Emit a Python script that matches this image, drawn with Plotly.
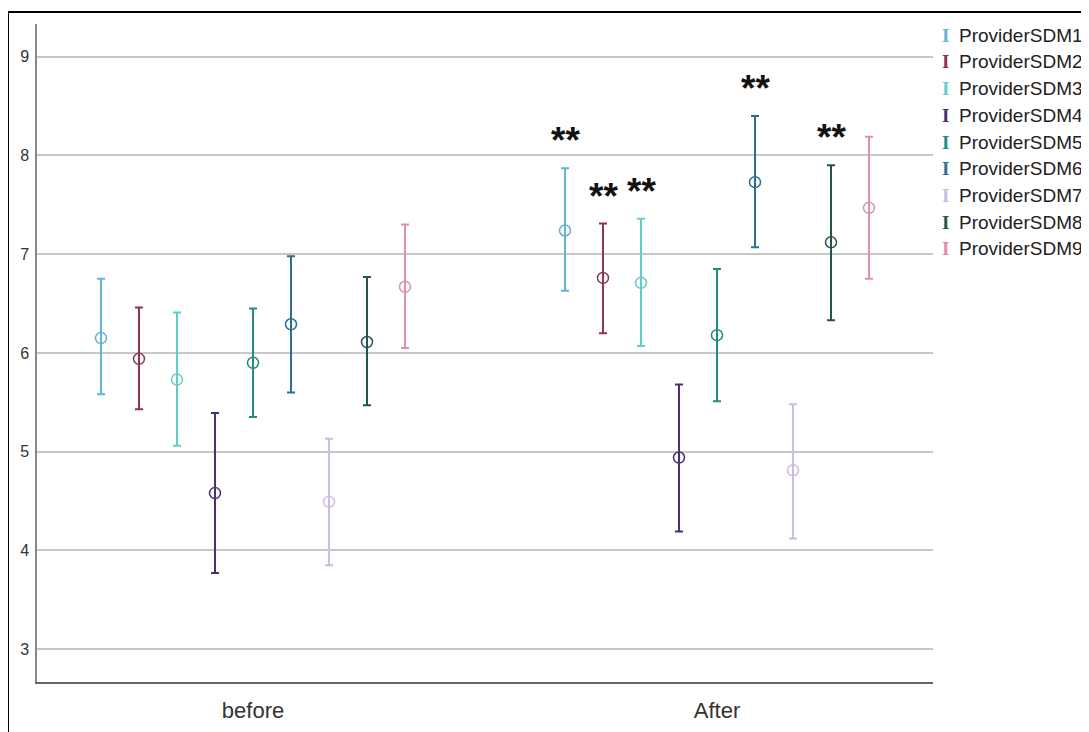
import plotly.graph_objects as go

# ---- data ----
groups = ["before", "After"]
series = ["ProviderSDM1", "ProviderSDM2", "ProviderSDM3", "ProviderSDM4", "ProviderSDM5",
          "ProviderSDM6", "ProviderSDM7", "ProviderSDM8", "ProviderSDM9"]
colors = ["#62b3d6", "#8c3558", "#5fcfc7", "#4a2d74", "#238c80",
          "#2b6f97", "#cbbde2", "#22554f", "#e28ea9"]

before_mean = [6.15, 5.94, 5.73, 4.58, 5.90, 6.29, 4.49, 6.11, 6.67]
before_low = [5.58, 5.43, 5.06, 3.77, 5.35, 5.60, 3.85, 5.47, 6.05]
before_high = [6.75, 6.46, 6.41, 5.39, 6.45, 6.98, 5.13, 6.77, 7.30]

after_mean = [7.24, 6.76, 6.71, 4.94, 6.18, 7.73, 4.81, 7.12, 7.47]
after_low = [6.63, 6.20, 6.07, 4.19, 5.51, 7.07, 4.12, 6.33, 6.75]
after_high = [7.87, 7.31, 7.36, 5.68, 6.85, 8.40, 5.48, 7.90, 8.19]

after_sig = ["**", "**", "**", "", "", "**", "", "**", ""]

y_ticks = [3, 4, 5, 6, 7, 8, 9]

# ---- figure (page body has an 8px margin, so the figure starts at 8,8) ----
W, H = 1081, 724
OFF = 8
ML, MT = 37 - OFF, 24 - OFF
MR = W - (933 - OFF)
MB = H - (682 - OFF)
dodge = 0.0819
n = len(series)

fig = go.Figure()
for i, name in enumerate(series):
    off = (i - (n - 1) / 2) * dodge
    means = [before_mean[i], after_mean[i]]
    lows = [before_low[i], after_low[i]]
    highs = [before_high[i], after_high[i]]
    fig.add_trace(go.Scatter(
        x=[g + off for g in range(len(groups))],
        y=means,
        mode="markers",
        name=name,
        showlegend=False,
        marker=dict(symbol="circle-open", size=11, color=colors[i], line=dict(width=1.5, color=colors[i])),
        error_y=dict(type="data", symmetric=False,
                     array=[h - m for h, m in zip(highs, means)],
                     arrayminus=[m - l for m, l in zip(means, lows)],
                     color=colors[i], thickness=2, width=4),
    ))
    if after_sig[i]:
        fig.add_annotation(x=1 + off, y=after_high[i], text="<b>" + after_sig[i] + "</b>",
                           showarrow=False, yanchor="bottom", yshift=5,
                           font=dict(family="Liberation Sans, Arial", size=37, color="#111"))

# legend drawn as text entries in paper coordinates
pw = W - ML - MR
ph = H - MT - MB
for i, name in enumerate(series):
    ypix = 35 + i * 26.75 - OFF
    yp = (H - MB - ypix) / ph
    fig.add_annotation(xref="paper", yref="paper", x=(945 - OFF - ML) / pw, y=yp, text="<b>I</b>",
                       showarrow=False, xanchor="center", yanchor="middle",
                       font=dict(family="Liberation Serif", size=19, color=colors[i]))
    fig.add_annotation(xref="paper", yref="paper", x=(957 - OFF - ML) / pw, y=yp, text=name,
                       showarrow=False, xanchor="left", yanchor="middle",
                       font=dict(family="Liberation Sans, Arial", size=19, color="#222"))

# outer frame (left and top edges)
fx = (0 - ML) / pw
fy = (H - MB - (12 - OFF)) / ph
fig.add_shape(type="line", xref="paper", yref="paper",
              x0=fx, x1=fx, y0=fy, y1=-0.2, line=dict(color="black", width=2))
fig.add_shape(type="line", xref="paper", yref="paper",
              x0=fx, x1=1.3, y0=fy, y1=fy, line=dict(color="black", width=2))

fig.update_layout(
    width=W, height=H,
    margin=dict(l=ML, r=MR, t=MT, b=MB, autoexpand=False),
    paper_bgcolor="white", plot_bgcolor="white",
    showlegend=False,
    font=dict(family="Liberation Sans, Arial", color="#333"),
)
fig.update_xaxes(
    automargin=False,
    range=[-0.4655, 1.4655], tickvals=list(range(len(groups))), ticktext=groups,
    showgrid=False, zeroline=False, showline=True, linecolor="#666", linewidth=2,
    ticks="outside", ticklen=8, tickcolor="rgba(0,0,0,0)",
    tickfont=dict(size=22, color="#333"),
)
fig.update_yaxes(
    automargin=False,
    range=[2.666, 9.332], tickvals=y_ticks,
    showgrid=True, gridcolor="#c8c8c8", gridwidth=1.5, zeroline=False,
    showline=True, linecolor="#888", linewidth=1.5,
    ticks="outside", ticklen=3, tickcolor="rgba(0,0,0,0)",
    tickfont=dict(size=16, color="#333"),
)

fig.write_html("out.html")
